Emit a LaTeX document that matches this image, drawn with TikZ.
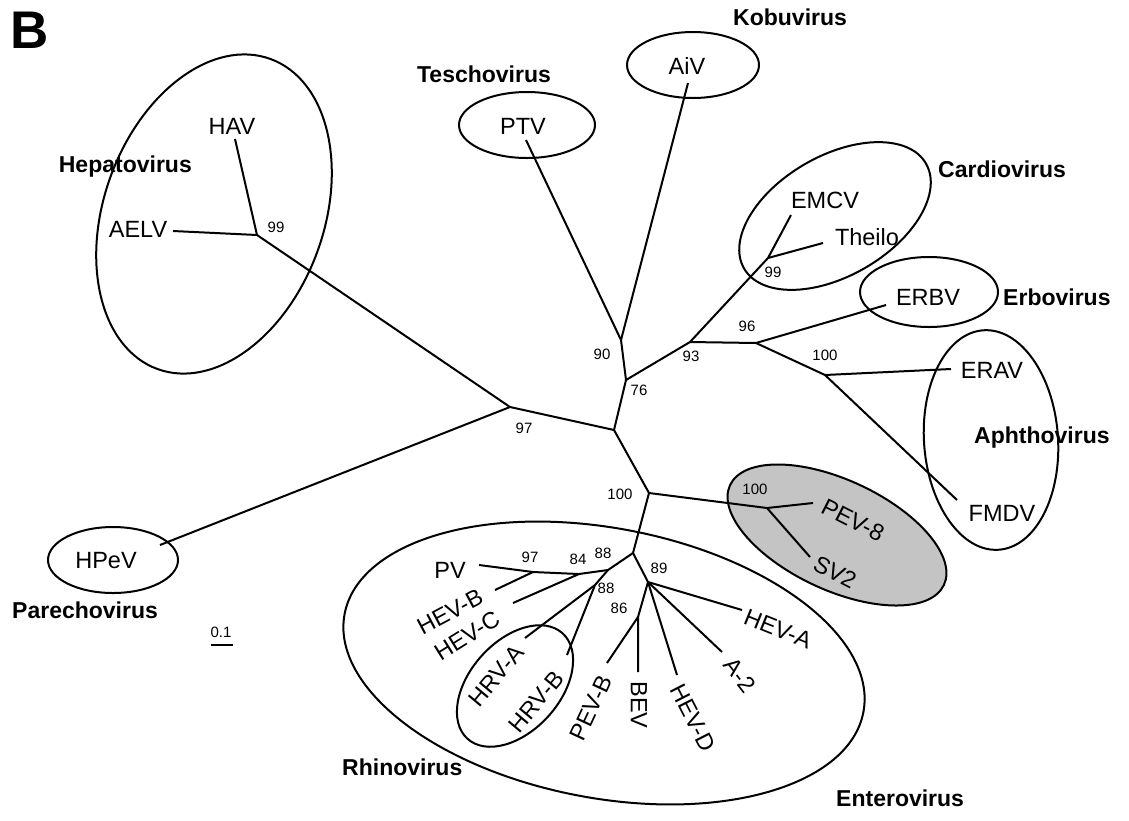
\documentclass[tikz,border=0pt]{standalone}
\usepackage{fontspec}
\setmainfont{Liberation Sans}
\begin{document}
\begin{tikzpicture}[x=1pt,y=-1pt,
  br/.style={line width=2pt},
  clade/.style={line width=2pt},
  lab/.style={inner sep=0pt, font=\fontsize{23.5}{28}\selectfont},
  grp/.style={inner sep=0pt, font=\bfseries\fontsize{23}{28}\selectfont},
  bs/.style={inner sep=0pt, font=\fontsize{15}{18}\selectfont}]
\useasboundingbox (0,0) rectangle (1129,820);

% clade outlines
\fill[fill={rgb,255:red,196;green,196;blue,196}, rotate around={-25:(837,535)}] (837,535) ellipse[x radius=118pt, y radius=55pt];
\draw[clade, rotate around={-25:(837,535)}] (837,535) ellipse[x radius=118pt, y radius=55pt];
\draw[clade, rotate around={70:(214,214)}] (214,214) ellipse[x radius=165pt, y radius=110pt];
\draw[clade] (527,125) ellipse[x radius=68pt, y radius=33pt];
\draw[clade] (693,65) ellipse[x radius=66pt, y radius=33pt];
\draw[clade, rotate around={30:(835,216)}] (835,216) ellipse[x radius=105pt, y radius=60pt];
\draw[clade] (929,292) ellipse[x radius=69pt, y radius=35pt];
\draw[clade, rotate around={4:(991,440)}] (991,440) ellipse[x radius=67pt, y radius=110pt];
\draw[clade, rotate around={-10.7:(604,663)}] (604,663) ellipse[x radius=264pt, y radius=135pt];
\draw[clade, rotate around={48:(515,686)}] (515,686) ellipse[x radius=71pt, y radius=45pt];
\draw[clade] (113,560) ellipse[x radius=65pt, y radius=33pt];

% tree coordinates
\coordinate (hep) at (257,235);
\coordinate (HAVe) at (235,139);
\coordinate (AELVe) at (173,231);
\coordinate (A) at (510,407);
\coordinate (HPeVe) at (160,545);
\coordinate (C) at (614,430);
\coordinate (n76) at (626,380);
\coordinate (n90) at (621,340);
\coordinate (PTVe) at (526,140);
\coordinate (AiVe) at (688,83);
\coordinate (n93) at (690,342);
\coordinate (n99) at (768,258);
\coordinate (EMCVe) at (791,215);
\coordinate (Theiloe) at (823,243);
\coordinate (n96) at (756,343);
\coordinate (ERBVe) at (886,305);
\coordinate (n100a) at (825,375);
\coordinate (ERAVe) at (951,369);
\coordinate (FMDVe) at (957,500);
\coordinate (D) at (649,493);
\coordinate (E) at (767,508);
\coordinate (PEVe) at (813,503);
\coordinate (SVe) at (810,557);
\coordinate (F) at (633,553);
\coordinate (n88a) at (608,570);
\coordinate (n84) at (579,574);
\coordinate (n97) at (533,572);
\coordinate (PVe) at (479,565);
\coordinate (HEVBe) at (495,590);
\coordinate (HEVCe) at (513,603);
\coordinate (n88b) at (595,585);
\coordinate (HRVAe) at (525,638);
\coordinate (HRVBe) at (567,655);
\coordinate (n89) at (648,582);
\coordinate (n86) at (638,617);
\coordinate (BEVe) at (638,672);
\coordinate (PEVBe) at (607,663);
\coordinate (HEVDe) at (677,675);
\coordinate (A2e) at (722,652);
\coordinate (HEVAe) at (742,610);

% branches
\draw[br] (HAVe) -- (hep) -- (AELVe);
\draw[br] (hep) -- (A) -- (HPeVe);
\draw[br] (A) -- (C) -- (n76) -- (n90) -- (PTVe);
\draw[br] (n90) -- (AiVe);
\draw[br] (n76) -- (n93) -- (n99) -- (EMCVe);
\draw[br] (n99) -- (Theiloe);
\draw[br] (n93) -- (n96) -- (ERBVe);
\draw[br] (n96) -- (n100a) -- (ERAVe);
\draw[br] (n100a) -- (FMDVe);
\draw[br] (C) -- (D) -- (E) -- (PEVe);
\draw[br] (E) -- (SVe);
\draw[br] (D) -- (F) -- (n88a) -- (n84) -- (n97) -- (PVe);
\draw[br] (n97) -- (HEVBe);
\draw[br] (n84) -- (HEVCe);
\draw[br] (n88a) -- (n88b) -- (HRVAe);
\draw[br] (n88b) -- (HRVBe);
\draw[br] (F) -- (n89) -- (n86) -- (BEVe);
\draw[br] (n86) -- (PEVBe);
\draw[br] (n89) -- (HEVDe);
\draw[br] (n89) -- (A2e);
\draw[br] (n89) -- (HEVAe);

% taxon labels
\node[lab] (tHAV) at (232,126) {HAV};
\node[lab] (tAELV) at (138,229) {AELV};
\node[lab] (tPTV) at (523,126) {PTV};
\node[lab] (tAiV) at (687,66) {AiV};
\node[lab] (tEMCV) at (825,200) {EMCV};
\node[lab] (tTheilo) at (867,237) {Theilo};
\node[lab] (tERBV) at (928,297) {ERBV};
\node[lab] (tERAV) at (992,370) {ERAV};
\node[lab] (tFMDV) at (1002,513) {FMDV};
\node[lab] (tHPeV) at (106,561) {HPeV};
\node[lab] (tPV) at (450,570) {PV};
\node[lab, rotate=28] (tHEVB) at (450,612) {HEV-B};
\node[lab, rotate=32] (tHEVC) at (467,636) {HEV-C};
\node[lab, rotate=50] (tHRVA) at (496,676) {HRV-A};
\node[lab, rotate=50] (tHRVB) at (536,702) {HRV-B};
\node[lab, rotate=65] (tPEVB) at (591,708) {PEV-B};
\node[lab, rotate=-90] (tBEV) at (639,705) {BEV};
\node[lab, rotate=-63] (tHEVD) at (693,718) {HEV-D};
\node[lab, rotate=-52] (tA2) at (740,675) {A-2};
\node[lab, rotate=-22] (tHEVA) at (778,629) {HEV-A};
\node[lab, rotate=-27] (tPEV8) at (853,520) {PEV-8};
\node[lab, rotate=-27] (tSV2) at (835,572) {SV2};

% genus labels
\node[grp, anchor=base east] (gHep) at (192,172) {Hepatovirus};
\node[grp, anchor=base] (gTes) at (484,82) {Teschovirus};
\node[grp, anchor=base west] (gKob) at (733,25) {Kobuvirus};
\node[grp, anchor=base west] (gCar) at (938,177) {Cardiovirus};
\node[grp, anchor=base west] (gErb) at (1003,305) {Erbovirus};
\node[grp, anchor=base west] (gAph) at (974,443) {Aphthovirus};
\node[grp, anchor=base west] (gPar) at (12,618) {Parechovirus};
\node[grp, anchor=base west] (gRhi) at (342,775) {Rhinovirus};
\node[grp, anchor=base west] (gEnt) at (836,806) {Enterovirus};

% bootstrap values
\node[bs] (b1) at (276,227) {99};
\node[bs] (b2) at (524,428) {97};
\node[bs] (b3) at (602,354) {90};
\node[bs] (b4) at (639,390) {76};
\node[bs] (b5) at (691,356) {93};
\node[bs] (b6) at (747,326) {96};
\node[bs] (b7) at (825,355) {100};
\node[bs] (b8) at (773,272) {99};
\node[bs] (b9) at (620,494) {100};
\node[bs] (b10) at (755,489) {100};
\node[bs] (b11) at (530,557) {97};
\node[bs] (b12) at (578,559) {84};
\node[bs] (b13) at (603,553) {88};
\node[bs] (b14) at (606,588) {88};
\node[bs] (b15) at (659,568) {89};
\node[bs] (b16) at (619,608) {86};

% panel letter and scale bar
\node[inner sep=0pt, font=\bfseries\fontsize{53}{60}\selectfont] (panel) at (30,30) {B};
\node[bs] (scl) at (221,632) {0.1};
\coordinate (sb1) at (211,645);
\coordinate (sb2) at (233,645);
\draw[line width=1.5pt] (sb1) -- (sb2);
\end{tikzpicture}
\end{document}
